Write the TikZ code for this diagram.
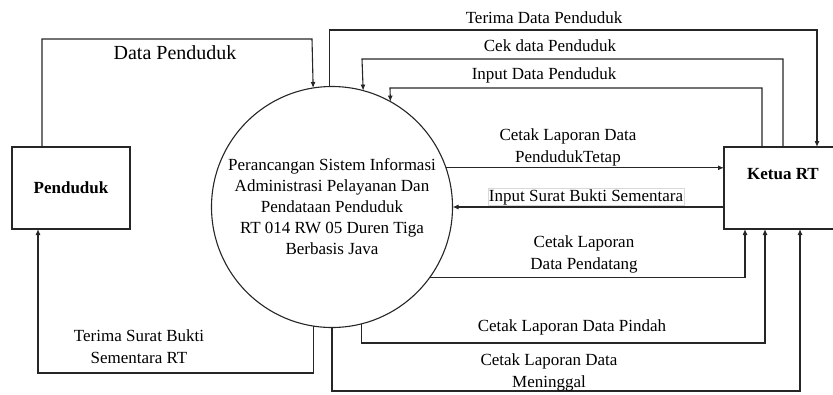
\documentclass[tikz,border=0pt]{standalone}
\usepackage{fontspec}
\setmainfont{LiberationSerif}[Extension=.ttf, UprightFont=*-Regular, BoldFont=*-Bold]
\usetikzlibrary{arrows.meta,positioning}

\begin{document}
\begin{tikzpicture}[x=1pt,y=-1pt,
    line width=1.1pt,
    entity/.style={draw=black!85, minimum width=118pt, minimum height=82pt,
       inner sep=0, outer sep=0, font=\fontsize{17}{21}\selectfont\bfseries},
    proc/.style={draw=black!85, circle, minimum size=241pt, inner sep=0,
       outer sep=0, align=center, font=\fontsize{17}{21}\selectfont},
    flow/.style={draw=black!85, -{Latex[length=6pt,width=5pt]}},
    lbl/.style={align=center, inner sep=1pt, font=\fontsize{17}{22}\selectfont}
  ]
  \useasboundingbox (0,0) rectangle (833,394);

  % entities and process
  \node[entity] (penduduk) at (71,188) {Penduduk};
  \node[entity] (ketua) at (783,188) {};
  \node[font=\fontsize{17}{21}\selectfont\bfseries] (ketuatxt) at (783,174) {Ketua RT};
  \node[proc] (sistem) at (332,207) {Perancangan Sistem Informasi\\
    Administrasi Pelayanan Dan\\ Pendataan Penduduk\\
    RT 014 RW 05 Duren Tiga\\ Berbasis Java};

  % Penduduk <-> sistem
  \draw[flow] ([xshift=30pt]penduduk.north west) |- (312,39) -- (sistem.99.6);
  \node[lbl, font=\fontsize{20}{24}\selectfont] (lDataPdd) at (175,53) {Data Penduduk};
  \draw[flow] (sistem.-99.1) |- (38,373) -- ([xshift=26pt]penduduk.south west);
  \node[lbl] (lSuratRT) at (139,347) {Terima Surat Bukti\\ Sementara RT};

  % sistem <-> Ketua RT, top
  \draw[flow] (sistem.91.9) |- (817,30) -- ([xshift=93pt]ketua.north west);
  \node[lbl] (lTerimaData) at (544,18) {Terima Data Penduduk};
  \draw[flow] ([xshift=59pt]ketua.north west) |- (362,59) -- (sistem.75.5);
  \node[lbl] (lCekData) at (550,46) {Cek data Penduduk};
  \draw[flow] ([xshift=38pt]ketua.north west) |- (390,88) -- (sistem.61.1);
  \node[lbl] (lInputData) at (544,75) {Input Data Penduduk};

  % middle
  \draw[flow] (sistem.19) -- (sistem.19 -| ketua.west);
  \node[lbl] (lTetap) at (568,147) {Cetak Laporan Data\\ PendudukTetap};
  \draw[flow] (ketua.west |- sistem.east) -- (sistem.east);
  \node[lbl, fill=white, draw=black!15, line width=0.6pt] (lSurat) at (586,197)
    {Input Surat Bukti Sementara};

  % bottom
  \draw[flow] (sistem.-36.3) -| ([xshift=21pt]ketua.south west);
  \node[lbl] (lPendatang) at (584,254) {Cetak Laporan\\ Data Pendatang};
  \draw[flow] (sistem.-76.5) |- (765,343) -- ([xshift=41pt]ketua.south west);
  \node[lbl] (lPindah) at (572,327) {Cetak Laporan Data Pindah};
  \draw[flow] (sistem.south) |- (800,391) -- ([xshift=76pt]ketua.south west);
  \node[lbl] (lMeninggal) at (549,372) {Cetak Laporan Data\\ Meninggal};
\end{tikzpicture}
\end{document}
